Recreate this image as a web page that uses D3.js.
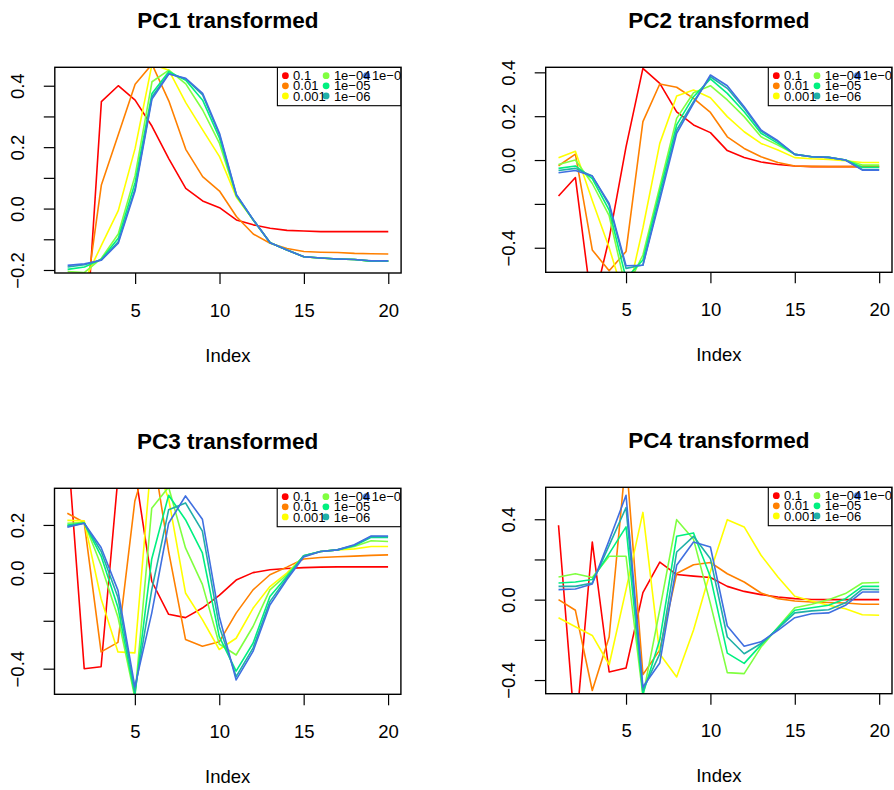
<!DOCTYPE html>
<html>
<head>
<meta charset="utf-8">
<script src="https://cdnjs.cloudflare.com/ajax/libs/d3/7.8.5/d3.min.js"></script>
<style>
  body { margin: 0; background: #fff; }
  text { font-family: "Liberation Sans", Arial, Helvetica, sans-serif; }
</style>
</head>
<body>
<div id="chart"></div>
<script>
// x categories (Index) and series
const index = [1, 2, 3, 4, 5, 6, 7, 8, 9, 10, 11, 12, 13, 14, 15, 16, 17, 18, 19, 20];
const seriesNames = ["0.1", "0.01", "0.001", "1e\u221204", "1e\u221205", "1e\u221206", "1e\u221207"];
const seriesColors = ["#ff0000", "#ff8000", "#ffff00", "#80ff40", "#00f080", "#20b0a8", "#4070e0"];
const xTicks = [5, 10, 15, 20];

// one row per series, same order as seriesNames
const pc1Values = [
  [-0.45, -0.50, 0.348, 0.40, 0.353, 0.268, 0.162, 0.066, 0.025, 0.003, -0.037, -0.053, -0.064, -0.071, -0.073, -0.075, -0.075, -0.075, -0.075, -0.075],
  [-0.28, -0.32, 0.077, 0.24, 0.405, 0.47, 0.35, 0.193, 0.104, 0.057, -0.026, -0.083, -0.113, -0.13, -0.14, -0.142, -0.143, -0.146, -0.147, -0.148],
  [-0.23, -0.235, -0.12, -0.007, 0.196, 0.47, 0.45, 0.345, 0.256, 0.169, 0.037, -0.037, -0.111, -0.135, -0.157, -0.162, -0.164, -0.166, -0.171, -0.171],
  [-0.205, -0.208, -0.162, -0.083, 0.108, 0.413, 0.451, 0.406, 0.321, 0.212, 0.040, -0.037, -0.111, -0.135, -0.157, -0.161, -0.164, -0.166, -0.171, -0.171],
  [-0.198, -0.19, -0.165, -0.097, 0.085, 0.375, 0.446, 0.418, 0.353, 0.229, 0.043, -0.037, -0.111, -0.135, -0.157, -0.161, -0.164, -0.166, -0.171, -0.171],
  [-0.19, -0.183, -0.167, -0.108, 0.065, 0.364, 0.44, 0.422, 0.37, 0.24, 0.044, -0.037, -0.111, -0.135, -0.157, -0.161, -0.164, -0.166, -0.171, -0.171],
  [-0.185, -0.18, -0.168, -0.113, 0.058, 0.357, 0.438, 0.424, 0.375, 0.245, 0.046, -0.036, -0.111, -0.135, -0.157, -0.161, -0.164, -0.166, -0.170, -0.170]
];
const pc2Values = [
  [-0.164, -0.08, -0.68, -0.358, 0.06, 0.418, 0.35, 0.22, 0.16, 0.125, 0.043, 0.012, -0.009, -0.02, -0.027, -0.03, -0.03, -0.03, -0.03, -0.03],
  [-0.026, 0.027, -0.41, -0.505, -0.417, 0.175, 0.347, 0.332, 0.281, 0.217, 0.106, 0.053, 0.015, -0.011, -0.027, -0.029, -0.03, -0.03, -0.03, -0.03],
  [0.01, 0.04, -0.184, -0.40, -0.65, -0.31, 0.076, 0.292, 0.319, 0.284, 0.198, 0.129, 0.076, 0.046, 0.011, 0.006, 0.003, -0.003, -0.011, -0.011],
  [-0.02, 0.0, -0.107, -0.254, -0.59, -0.433, -0.122, 0.19, 0.307, 0.339, 0.274, 0.198, 0.106, 0.068, 0.026, 0.015, 0.012, 0.0, -0.023, -0.023],
  [-0.038, -0.027, -0.085, -0.228, -0.54, -0.456, -0.144, 0.16, 0.289, 0.37, 0.304, 0.22, 0.122, 0.076, 0.026, 0.015, 0.012, 0.0, -0.033, -0.033],
  [-0.048, -0.038, -0.073, -0.205, -0.494, -0.479, -0.167, 0.137, 0.266, 0.38, 0.327, 0.236, 0.132, 0.084, 0.026, 0.015, 0.012, 0.0, -0.043, -0.043],
  [-0.058, -0.048, -0.073, -0.198, -0.482, -0.48, -0.183, 0.122, 0.259, 0.388, 0.339, 0.243, 0.137, 0.088, 0.026, 0.015, 0.012, 0.0, -0.046, -0.046]
];
const pc3Values = [
  [0.55, -0.40, -0.392, 0.40, 0.43, -0.035, -0.173, -0.187, -0.147, -0.094, -0.03, 0.001, 0.013, 0.018, 0.022, 0.024, 0.025, 0.025, 0.025, 0.025],
  [0.249, 0.21, -0.33, -0.29, 0.30, 0.535, 0.09, -0.278, -0.306, -0.288, -0.168, -0.071, -0.008, 0.024, 0.058, 0.064, 0.067, 0.07, 0.073, 0.075],
  [0.219, 0.217, -0.108, -0.33, -0.334, 0.494, 0.31, -0.084, -0.195, -0.32, -0.273, -0.148, -0.057, -0.001, 0.068, 0.089, 0.096, 0.1, 0.11, 0.11],
  [0.207, 0.21, 0.032, -0.185, -0.52, 0.27, 0.358, 0.104, -0.048, -0.297, -0.343, -0.224, -0.071, -0.008, 0.071, 0.089, 0.096, 0.11, 0.134, 0.131],
  [0.2, 0.208, 0.07, -0.145, -0.51, 0.058, 0.324, 0.222, 0.083, -0.266, -0.41, -0.294, -0.099, -0.015, 0.071, 0.089, 0.096, 0.113, 0.149, 0.148],
  [0.195, 0.207, 0.09, -0.103, -0.495, -0.071, 0.263, 0.292, 0.174, -0.224, -0.433, -0.314, -0.12, -0.022, 0.071, 0.089, 0.096, 0.115, 0.152, 0.151],
  [0.19, 0.207, 0.106, -0.073, -0.475, -0.168, 0.207, 0.321, 0.224, -0.182, -0.447, -0.328, -0.134, -0.029, 0.066, 0.089, 0.096, 0.117, 0.154, 0.154]
];
const pc4Values = [
  [0.37, -0.68, 0.287, -0.36, -0.34, 0.035, 0.187, 0.125, 0.117, 0.11, 0.066, 0.041, 0.025, 0.013, 0.005, 0.001, 0.0, 0.0, 0.0, 0.0],
  [0.0, -0.053, -0.452, -0.186, 0.71, -0.373, -0.25, 0.13, 0.174, 0.185, 0.129, 0.088, 0.033, 0.005, -0.007, -0.012, -0.014, -0.017, -0.023, -0.023],
  [-0.09, -0.135, -0.178, -0.324, 0.05, 0.434, -0.27, -0.385, -0.151, 0.14, 0.398, 0.362, 0.221, 0.113, 0.017, -0.007, -0.028, -0.045, -0.075, -0.078],
  [0.113, 0.129, 0.11, 0.216, 0.216, -0.48, -0.05, 0.398, 0.30, -0.02, -0.363, -0.368, -0.236, -0.138, -0.04, -0.023, 0.0, 0.03, 0.083, 0.085],
  [0.083, 0.088, 0.1, 0.229, 0.362, -0.47, -0.2, 0.315, 0.332, 0.113, -0.266, -0.317, -0.225, -0.14, -0.053, -0.04, -0.028, 0.005, 0.066, 0.066],
  [0.066, 0.066, 0.083, 0.27, 0.458, -0.45, -0.27, 0.237, 0.315, 0.204, -0.186, -0.269, -0.218, -0.145, -0.066, -0.056, -0.05, -0.016, 0.052, 0.05],
  [0.05, 0.053, 0.078, 0.295, 0.519, -0.435, -0.315, 0.171, 0.287, 0.262, -0.131, -0.232, -0.21, -0.153, -0.09, -0.07, -0.066, -0.028, 0.038, 0.038]
];

// y ticks (all) and the ones that carry a label
const pc1YTicks = [-0.2, -0.1, 0, 0.1, 0.2, 0.3, 0.4];
const pc1YLabels = [-0.2, 0, 0.2, 0.4];
const pc2YTicks = [-0.4, -0.2, 0, 0.2, 0.4];
const pc2YLabels = [-0.4, 0, 0.2, 0.4];
const pc3YTicks = [-0.4, -0.2, 0, 0.2];
const pc3YLabels = [-0.4, 0, 0.2];
const pc4YTicks = [-0.4, -0.2, 0, 0.2, 0.4];
const pc4YLabels = [-0.4, 0, 0.4];

const W = 894, H = 790;
const svg = d3.select("#chart").append("svg")
    .attr("width", W).attr("height", H)
    .style("display", "block");

const panels = [
  { id: 1, title: "PC1 transformed", values: pc1Values, yTicks: pc1YTicks, yLabels: pc1YLabels,
    yDomain: [-0.2098, 0.46], left: 54.8, right: 401.1, top: 67.3, bottom: 273 },
  { id: 2, title: "PC2 transformed", values: pc2Values, yTicks: pc2YTicks, yLabels: pc2YLabels,
    yDomain: [-0.512, 0.423], left: 545.7, right: 892, top: 67.3, bottom: 272.3 },
  { id: 3, title: "PC3 transformed", values: pc3Values, yTicks: pc3YTicks, yLabels: pc3YLabels,
    yDomain: [-0.507, 0.353], left: 54.5, right: 400.9, top: 488.3, bottom: 694.3 },
  { id: 4, title: "PC4 transformed", values: pc4Values, yTicks: pc4YTicks, yLabels: pc4YLabels,
    yDomain: [-0.468, 0.559], left: 545.7, right: 892, top: 487.3, bottom: 693.7 }
];

const fmt = d3.format(".1f");
const tickLen = 11;

function drawPanel(p) {
  const x = d3.scaleLinear().domain([0.24, 20.76]).range([p.left, p.right]);
  const y = d3.scaleLinear().domain(p.yDomain).range([p.bottom, p.top]);
  const g = svg.append("g");

  const clipId = "clip" + p.id;
  svg.append("clipPath").attr("id", clipId)
    .append("rect")
    .attr("x", p.left).attr("y", p.top)
    .attr("width", p.right - p.left).attr("height", p.bottom - p.top);

  const plot = g.append("g").attr("clip-path", "url(#" + clipId + ")");

  const line = d3.line().x((d, i) => x(index[i])).y(d => y(d));
  plot.selectAll("path.series")
    .data(p.values)
    .enter().append("path")
    .attr("class", "series")
    .attr("fill", "none")
    .attr("stroke", (d, i) => seriesColors[i])
    .attr("stroke-width", 1.6)
    .attr("stroke-linejoin", "round")
    .attr("d", line);

  // legend (topright, clipped to the plot region like R does)
  const lw = 123.7, lh = 38.4;
  const lx = p.right - lw, ly = p.top;
  plot.append("rect")
    .attr("x", lx).attr("y", ly).attr("width", lw).attr("height", lh)
    .attr("fill", "#fff").attr("stroke", "#000").attr("stroke-width", 1.1);
  const dotX = [8, 48.7, 89.2];
  const txtX = [15.7, 56.5, 94.5];
  const items = seriesNames.map((n, i) => ({ name: n, color: seriesColors[i], col: Math.floor(i / 3), row: i % 3 }));
  plot.selectAll("circle.leg").data(items).enter().append("circle")
    .attr("class", "leg")
    .attr("cx", d => lx + dotX[d.col])
    .attr("cy", d => ly + 8.4 + d.row * 10.1)
    .attr("r", 3.4)
    .attr("fill", d => d.color);
  plot.selectAll("text.leg").data(items).enter().append("text")
    .attr("class", "leg")
    .attr("x", d => lx + txtX[d.col])
    .attr("y", d => ly + 13 + d.row * 10.1)
    .attr("font-size", 13)
    .attr("fill", "#000")
    .text(d => d.name);

  // box
  g.append("rect")
    .attr("x", p.left).attr("y", p.top)
    .attr("width", p.right - p.left).attr("height", p.bottom - p.top)
    .attr("fill", "none").attr("stroke", "#000").attr("stroke-width", 1.4);

  // x axis
  const xAxis = d3.axisBottom(x).tickValues(xTicks).tickSize(tickLen).tickFormat(d3.format("d"));
  const xg = g.append("g").attr("transform", "translate(0," + p.bottom + ")").call(xAxis);
  xg.select(".domain").remove();
  xg.selectAll(".tick line").attr("stroke", "#000").attr("stroke-width", 1.2);
  xg.selectAll(".tick text")
    .attr("y", 43.7).attr("dy", null)
    .attr("font-size", 18.5).attr("fill", "#000")
    .attr("font-family", "Liberation Sans, Arial, sans-serif");

  // y axis
  const yAxis = d3.axisLeft(y).tickValues(p.yTicks).tickSize(tickLen)
    .tickFormat(v => p.yLabels.some(l => Math.abs(l - v) < 1e-9) ? fmt(v) : "");
  const yg = g.append("g").attr("transform", "translate(" + p.left + ",0)").call(yAxis);
  yg.select(".domain").remove();
  yg.selectAll(".tick line").attr("stroke", "#000").attr("stroke-width", 1.2);
  yg.selectAll(".tick text")
    .attr("x", null).attr("dy", null)
    .attr("transform", "translate(-31,0) rotate(-90)")
    .attr("text-anchor", "middle")
    .attr("font-size", 18.5).attr("fill", "#000")
    .attr("font-family", "Liberation Sans, Arial, sans-serif");

  // titles
  const cx = (p.left + p.right) / 2;
  g.append("text")
    .attr("x", cx).attr("y", p.top - 39.5)
    .attr("text-anchor", "middle")
    .attr("font-size", 22.5).attr("font-weight", "bold")
    .text(p.title);
  g.append("text")
    .attr("x", cx).attr("y", p.bottom + 88.7)
    .attr("text-anchor", "middle")
    .attr("font-size", 18.5)
    .text("Index");
}

panels.forEach(drawPanel);
</script>
</body>
</html>
